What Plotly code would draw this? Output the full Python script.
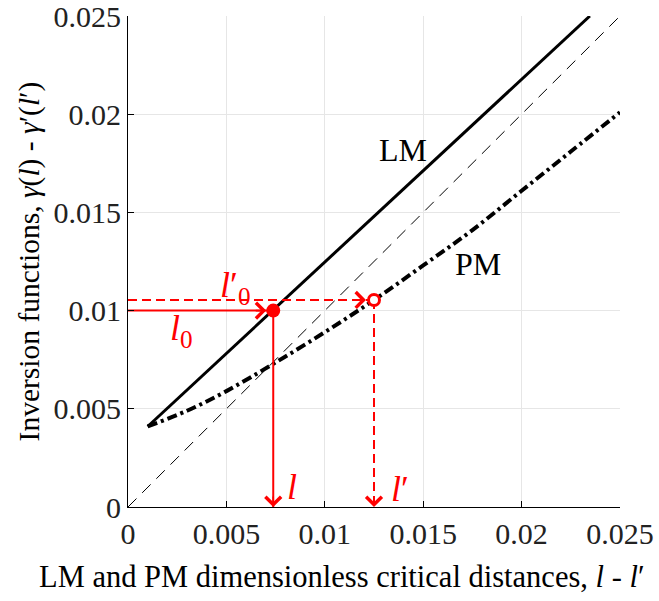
import plotly.graph_objects as go

# ---- data ----
lm_x = [0.001, 0.02347]
lm_y = [0.0041, 0.025]
pm_x = [0.001, 0.003, 0.005, 0.0074, 0.0100, 0.0125, 0.015, 0.0175, 0.020, 0.0225, 0.025]
pm_y = [0.0041, 0.0049, 0.0059, 0.0073, 0.0089, 0.01054, 0.0123, 0.0141, 0.0161, 0.0181, 0.0201]
diag_x = [0, 0.025]
diag_y = [0, 0.025]
l0_point = (0.00738, 0.0100)     # LM operating point
lp0_point = (0.0125, 0.01054)    # PM operating point
tick_vals = [0, 0.005, 0.01, 0.015, 0.02, 0.025]
tick_text = ["0", "0.005", "0.01", "0.015", "0.02", "0.025"]

FONT = "Liberation Serif, Times New Roman, serif"
RED = "#ff0000"

fig = go.Figure()
fig.add_trace(go.Scatter(x=diag_x, y=diag_y, mode="lines",
                         line=dict(color="black", width=1, dash="12px,8px"), hoverinfo="skip"))
fig.add_trace(go.Scatter(x=pm_x, y=pm_y, mode="lines",
                         line=dict(color="black", width=4, dash="10px,4px,3px,4px", shape="spline", smoothing=1.0)))
fig.add_trace(go.Scatter(x=lm_x, y=lm_y, mode="lines", line=dict(color="black", width=3)))

# red dashed guides for PM point
fig.add_trace(go.Scatter(x=[0, lp0_point[0]], y=[lp0_point[1], lp0_point[1]], mode="lines",
                         line=dict(color=RED, width=2, dash="9px,5px")))
fig.add_trace(go.Scatter(x=[lp0_point[0], lp0_point[0]], y=[lp0_point[1], 0], mode="lines",
                         line=dict(color=RED, width=2, dash="9px,5px")))
# red solid guides for LM point
fig.add_trace(go.Scatter(x=[0, l0_point[0]], y=[l0_point[1], l0_point[1]], mode="lines",
                         line=dict(color=RED, width=2)))
fig.add_trace(go.Scatter(x=[l0_point[0], l0_point[0]], y=[l0_point[1], 0], mode="lines",
                         line=dict(color=RED, width=2)))

fig.add_trace(go.Scatter(x=[l0_point[0]], y=[l0_point[1]], mode="markers",
                         marker=dict(color=RED, size=14, line=dict(width=0))))
fig.add_trace(go.Scatter(x=[lp0_point[0]], y=[lp0_point[1]], mode="markers",
                         marker=dict(color="white", size=11, line=dict(color=RED, width=3))))

# arrowheads
def head(x, y, ax, ay):
    fig.add_annotation(x=x, y=y, ax=ax, ay=ay, axref="pixel", ayref="pixel", text="",
                       showarrow=True, arrowhead=4, arrowsize=1.9, arrowwidth=1.6,
                       arrowcolor=RED, standoff=0)

px_x = 0.025 / 492
head(l0_point[0] - 7 * px_x, l0_point[1], -12, 0)
head(l0_point[0], 0, 0, -12)
head(lp0_point[0] - 8 * px_x, lp0_point[1], -12, 0)
head(lp0_point[0], 0, 0, -12)

# labels
def lab(x, y, t, color="black", size=32):
    fig.add_annotation(x=x, y=y, text=t, showarrow=False, xanchor="center", yanchor="middle",
                       font=dict(family=FONT, size=size, color=color))

lab(0.01397, 0.0182, "LM")
lab(0.01778, 0.01235, "PM")
lab(0.00833, 0.00100, "<i>l</i>", RED, 36)
lab(0.01382, 0.00090, "<i>l</i>′", RED, 36)
lab(0.00274, 0.0090, "<i>l</i><sub>0</sub>", RED, 36)
lab(0.00544, 0.0112, "<i>l</i>′<sub>0</sub>", RED, 36)

# x-axis title (placed as annotation: it is offset left of the plot centre in the reference)
fig.add_annotation(xref="paper", yref="paper", x=0.435, y=-0.142, xanchor="center", yanchor="middle",
                   text="LM and PM dimensionless critical distances, <i>l</i> - <i>l</i>′",
                   showarrow=False, font=dict(family=FONT, size=30.5, color="black"))

axis_common = dict(range=[0, 0.025], tickvals=tick_vals, ticktext=tick_text, automargin=False,
                   showgrid=True, gridcolor="#e6e6e6", gridwidth=1, zeroline=False,
                   showline=True, linecolor="black", linewidth=1.2,
                   ticks="inside", ticklen=6, tickcolor="black", ticklabeloverflow="allow",
                   tickfont=dict(family=FONT, size=30, color="#222"))

fig.update_xaxes(**axis_common)
fig.update_yaxes(**axis_common,
                 title=dict(text="Inversion functions, <i>γ</i>(<i>l</i>) - <i>γ</i>′(<i>l</i>′)",
                            font=dict(family=FONT, size=29.5, color="black"), standoff=5))

fig.update_layout(width=659, height=601, showlegend=False,
                  margin=dict(l=128, r=39, t=16, b=94),
                  plot_bgcolor="white", paper_bgcolor="white")

fig.write_html("out.html", config={"displayModeBar": False},
               post_script="document.body.style.margin='0';")
